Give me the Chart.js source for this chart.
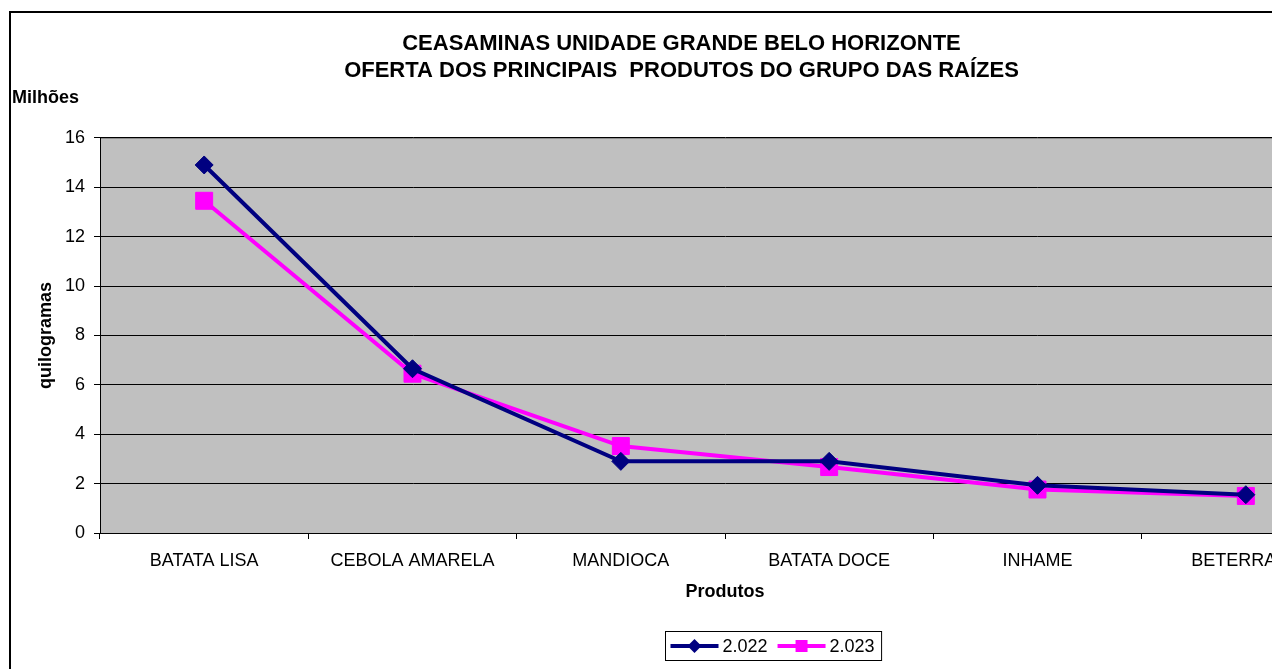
<!DOCTYPE html>
<html lang="pt-BR">
<head>
<meta charset="utf-8">
<title>Oferta dos principais produtos do grupo das raízes</title>
<script src="https://cdn.jsdelivr.net/npm/chart.js@4.4.1/dist/chart.umd.min.js"></script>
<style>
  html, body { margin: 0; padding: 0; background: #ffffff; overflow: hidden; }
  #moldura {
    position: absolute;
    left: 9px;
    top: 11px;
    width: 1360px;
    height: 700px;
    border: 2px solid #000000;
    background: #ffffff;
  }
  #grafico { display: block; }
</style>
</head>
<body>
<div id="moldura">
  <canvas id="grafico" width="1352" height="660"></canvas>
</div>
<script>
// Dados do gráfico (milhões de quilogramas)
const produtos = ['BATATA LISA', 'CEBOLA AMARELA', 'MANDIOCA', 'BATATA DOCE', 'INHAME', 'BETERRABA'];
const oferta2022 = [14.9, 6.65, 2.9, 2.9, 1.93, 1.55];
const oferta2023 = [13.45, 6.45, 3.52, 2.67, 1.76, 1.5];
const rotulosSeries = ['2.022', '2.023'];
const ticksY = [0, 2, 4, 6, 8, 10, 12, 14, 16];

const titulo = [
  'CEASAMINAS UNIDADE GRANDE BELO HORIZONTE',
  'OFERTA DOS PRINCIPAIS  PRODUTOS DO GRUPO DAS RAÍZES'
];

const fonte = "'Liberation Sans', Arial, sans-serif";

// Cores no estilo do Excel
const cores = {
  azul: '#000080',
  rosa: '#FF00FF',
  fundoPlotagem: '#C0C0C0',
  texto: '#000000'
};

// Fundo cinza da área de plotagem
const fundoPlugin = {
  id: 'fundoPlotagem',
  beforeDraw: function(chart) {
    const a = chart.chartArea;
    const ctx = chart.ctx;
    ctx.save();
    ctx.fillStyle = cores.fundoPlotagem;
    ctx.fillRect(a.left, a.top, a.right - a.left, a.bottom - a.top);
    ctx.strokeStyle = '#808080';
    ctx.lineWidth = 1;
    ctx.beginPath();
    ctx.moveTo(a.left, a.top + 0.5);
    ctx.lineTo(a.right, a.top + 0.5);
    ctx.stroke();
    ctx.restore();
  }
};

// Marcador da legenda (losango ou quadrado)
function desenharMarcador(ctx, estilo, x, y, tam) {
  ctx.beginPath();
  if (estilo === 'rectRot') {
    ctx.moveTo(x - tam, y);
    ctx.lineTo(x, y - tam);
    ctx.lineTo(x + tam, y);
    ctx.lineTo(x, y + tam);
    ctx.closePath();
  } else {
    ctx.rect(x - tam, y - tam, tam * 2, tam * 2);
  }
  ctx.fill();
}

// "Milhões" e legenda com moldura
const extrasPlugin = {
  id: 'extras',
  afterDraw: function(chart) {
    const ctx = chart.ctx;
    const a = chart.chartArea;
    ctx.save();

    ctx.fillStyle = cores.texto;
    ctx.font = 'bold 18px ' + fonte;
    ctx.textAlign = 'left';
    ctx.textBaseline = 'middle';
    ctx.fillText('Milhões', 1, a.top - 40);

    // legenda
    ctx.font = '18px ' + fonte;
    const tamLinha = 48;
    const itens = chart.data.datasets.map(function(ds) {
      return { ds: ds, larguraTexto: ctx.measureText(ds.label).width };
    });
    let largura = 6;
    itens.forEach(function(it, i) {
      largura += tamLinha + 4 + it.larguraTexto + (i < itens.length - 1 ? 10 : 6);
    });
    const altura = 29;
    const centroX = (a.left + a.right) / 2 + 48;
    const esq = Math.round(centroX - largura / 2) + 0.5;
    const topo = Math.round(a.bottom) + 98.5;
    ctx.fillStyle = '#ffffff';
    ctx.fillRect(esq, topo, largura, altura);
    ctx.strokeStyle = '#000000';
    ctx.lineWidth = 1;
    ctx.strokeRect(esq, topo, largura, altura);

    const meioY = topo + altura / 2;
    let x = esq + 5;
    itens.forEach(function(it) {
      const ds = it.ds;
      ctx.strokeStyle = ds.borderColor;
      ctx.lineWidth = 4;
      ctx.beginPath();
      ctx.moveTo(x, meioY);
      ctx.lineTo(x + tamLinha, meioY);
      ctx.stroke();
      ctx.fillStyle = ds.borderColor;
      desenharMarcador(ctx, ds.pointStyle, x + tamLinha / 2, meioY, ds.pointStyle === 'rectRot' ? 7 : 6);
      x += tamLinha + 4;
      ctx.fillStyle = cores.texto;
      ctx.textAlign = 'left';
      ctx.textBaseline = 'middle';
      ctx.fillText(ds.label, x, meioY + 1);
      x += it.larguraTexto + 10;
    });

    ctx.restore();
  }
};

function criarGrafico() {
  const ctx = document.getElementById('grafico').getContext('2d');

  return new Chart(ctx, {
    type: 'line',
    data: {
      labels: produtos,
      datasets: [
        {
          label: rotulosSeries[0],
          data: oferta2022,
          borderColor: cores.azul,
          backgroundColor: cores.azul,
          borderWidth: 4,
          pointStyle: 'rectRot',
          pointRadius: 9,
          pointBorderWidth: 1,
          tension: 0
        },
        {
          label: rotulosSeries[1],
          data: oferta2023,
          borderColor: cores.rosa,
          backgroundColor: cores.rosa,
          borderWidth: 4,
          pointStyle: 'rect',
          pointRadius: 12,
          pointBorderWidth: 1,
          tension: 0
        }
      ]
    },
    options: {
      responsive: false,
      animation: false,
      devicePixelRatio: 1,
      layout: {
        padding: { left: 0, right: 11, top: 0, bottom: 70 }
      },
      plugins: {
        legend: { display: false },
        tooltip: { enabled: false },
        title: {
          display: true,
          text: titulo,
          color: cores.texto,
          font: { family: fonte, size: 22, weight: 'bold', lineHeight: 1.2 },
          padding: { top: 18, bottom: 54 }
        }
      },
      scales: {
        x: {
          type: 'category',
          offset: true,
          grid: {
            offset: true,
            drawOnChartArea: false,
            drawTicks: true,
            tickLength: 6,
            color: '#000000'
          },
          border: { display: true, color: '#000000', width: 1 },
          ticks: {
            color: cores.texto,
            font: { family: fonte, size: 18 },
            padding: 11,
            maxRotation: 0,
            autoSkip: false
          },
          title: {
            display: true,
            text: 'Produtos',
            color: cores.texto,
            font: { family: fonte, size: 18, weight: 'bold' },
            padding: { top: 0, bottom: 0 }
          },
          afterFit: function(scale) { scale.height = 70; }
        },
        y: {
          min: 0,
          max: 16,
          afterBuildTicks: function(scale) {
            scale.ticks = ticksY.map(function(v) { return { value: v }; });
          },
          grid: {
            color: '#000000',
            lineWidth: 1,
            drawTicks: true,
            tickLength: 6
          },
          border: { display: true, color: '#000000', width: 1 },
          ticks: {
            color: cores.texto,
            font: { family: fonte, size: 18 },
            padding: 9
          },
          title: {
            display: true,
            text: 'quilogramas',
            color: cores.texto,
            font: { family: fonte, size: 18, weight: 'bold' },
            padding: { top: 24, bottom: 0 }
          },
          afterFit: function(scale) { scale.width = 89; }
        }
      }
    },
    plugins: [fundoPlugin, extrasPlugin]
  });
}

document.addEventListener('DOMContentLoaded', function() {
  criarGrafico();
});
</script>
</body>
</html>
